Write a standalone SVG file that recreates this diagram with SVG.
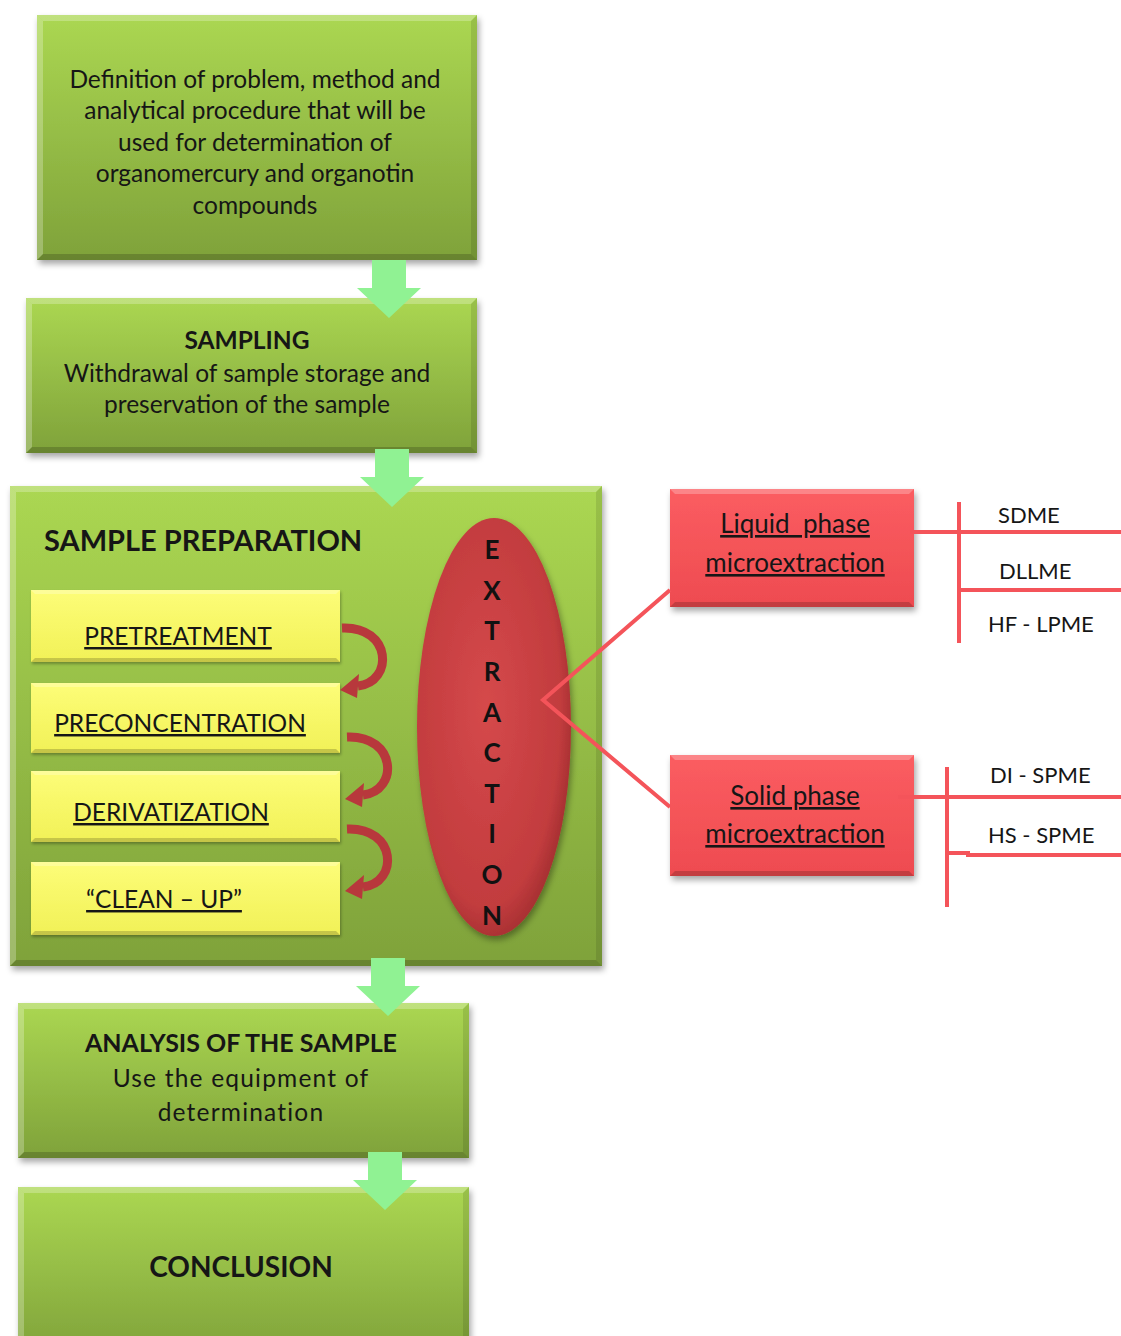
<svg xmlns="http://www.w3.org/2000/svg" width="1121" height="1336" viewBox="0 0 1121 1336">
<defs>
<linearGradient id="gGreen" x1="0" y1="0" x2="0" y2="1"><stop offset="0" stop-color="#abd752"/><stop offset="1" stop-color="#7fa23a"/></linearGradient>
<linearGradient id="gYellow" x1="0" y1="0" x2="0" y2="1"><stop offset="0" stop-color="#fdfd78"/><stop offset="1" stop-color="#f1f157"/></linearGradient>
<linearGradient id="gRed" x1="0" y1="0" x2="0" y2="1"><stop offset="0" stop-color="#fb5d61"/><stop offset="1" stop-color="#ee4b50"/></linearGradient>
<radialGradient id="gEll" cx="0.45" cy="0.45" r="0.6"><stop offset="0" stop-color="#d5494b"/><stop offset="0.8" stop-color="#c23c3e"/><stop offset="1" stop-color="#9e2c2e"/></radialGradient>
<filter id="shadow" x="-10%" y="-10%" width="125%" height="125%"><feDropShadow dx="2" dy="4" stdDeviation="3" flood-color="#000" flood-opacity="0.35"/></filter>
<filter id="soft" x="-10%" y="-10%" width="125%" height="125%"><feDropShadow dx="1" dy="2" stdDeviation="1.5" flood-color="#000" flood-opacity="0.3"/></filter>
<g id="curl">
<path d="M0 4 C50 2 52 58 16 62" fill="none" stroke="#b8383c" stroke-width="9"/>
<polygon points="-2,66 17,50 15,74" fill="#b8383c"/>
</g>
<path id="garrow" d="M-17 0 H17 V28 H32 L0 58 L-32 28 H-17 Z" fill="#90f293"/>
</defs>
<style>
.green{fill:url(#gGreen);filter:url(#shadow)}
.yellow{fill:url(#gYellow);filter:url(#soft)}
.red{fill:url(#gRed);filter:url(#shadow)}
.hl{fill:#fff;opacity:.25}
.dk{fill:#000;opacity:.18}
.dk2{fill:#000;opacity:.1}
.t{font-family:Lato,"Open Sans","Liberation Sans",sans-serif;font-size:24.5px;fill:#161616}
.c{text-anchor:middle}
.b{font-weight:bold}
.u{text-decoration:underline}
.rt{font-size:26px}
.ls{letter-spacing:1.2px}
.ex{font-family:Lato,"Liberation Sans",sans-serif;font-size:26px;font-weight:bold;fill:#111;text-anchor:middle}
.lab{font-family:Lato,"Open Sans","Liberation Sans",sans-serif;font-size:22px;fill:#161616}
.rl{stroke:#f4545a;stroke-width:4;fill:none}
</style>

<g id="node-definition">
<rect class="green" x="37" y="15" width="440" height="245"/>
<polygon class="hl" points="37,15 477,15 471,21 43,21"/>
<polygon class="dk" points="37,260 477,260 471,254 43,254"/>
<polygon class="hl" points="37,15 43,21 43,254 37,260"/>
<polygon class="dk2" points="477,15 471,21 471,254 477,260"/>
<text class="t c" x="255" y="88">Definition of problem, method and</text>
<text class="t c" x="255" y="119">analytical procedure that will be</text>
<text class="t c" x="255" y="151">used for determination of</text>
<text class="t c" x="255" y="182">organomercury and organotin</text>
<text class="t c" x="255" y="214">compounds</text>
</g>

<g id="node-sampling">
<rect class="green" x="26" y="298" width="451" height="155"/>
<polygon class="hl" points="26,298 477,298 471,304 32,304"/>
<polygon class="dk" points="26,453 477,453 471,447 32,447"/>
<polygon class="hl" points="26,298 32,304 32,447 26,453"/>
<polygon class="dk2" points="477,298 471,304 471,447 477,453"/>
<text class="t c b" x="247" y="349">SAMPLING</text>
<text class="t c" x="247" y="382">Withdrawal of sample storage and</text>
<text class="t c" x="247" y="413">preservation of the sample</text>
</g>

<g id="node-sample-preparation">
<rect class="green" x="10" y="486" width="592" height="480"/>
<polygon class="hl" points="10,486 602,486 596,492 16,492"/>
<polygon class="dk" points="10,966 602,966 596,960 16,960"/>
<polygon class="hl" points="10,486 16,492 16,960 10,966"/>
<polygon class="dk2" points="602,486 596,492 596,960 602,966"/>
<text class="t b" x="44" y="551" style="font-size:29px">SAMPLE PREPARATION</text>
</g>

<g id="node-pretreatment">
<rect class="yellow" x="31" y="590" width="309" height="72"/>
<polygon class="hl" points="31,590 340,590 336,594 35,594"/>
<polygon class="dk" points="31,662 340,662 336,658 35,658"/>
<text class="t c u" x="178" y="645">PRETREATMENT</text>
</g>
<g id="node-preconcentration">
<rect class="yellow" x="31" y="683" width="309" height="70"/>
<polygon class="hl" points="31,683 340,683 336,687 35,687"/>
<polygon class="dk" points="31,753 340,753 336,749 35,749"/>
<text class="t c u" x="180" y="732">PRECONCENTRATION</text>
</g>
<g id="node-derivatization">
<rect class="yellow" x="31" y="771" width="309" height="71"/>
<polygon class="hl" points="31,771 340,771 336,775 35,775"/>
<polygon class="dk" points="31,842 340,842 336,838 35,838"/>
<text class="t c u" x="171" y="821">DERIVATIZATION</text>
</g>
<g id="node-cleanup">
<rect class="yellow" x="31" y="862" width="309" height="73"/>
<polygon class="hl" points="31,862 340,862 336,866 35,866"/>
<polygon class="dk" points="31,935 340,935 336,931 35,931"/>
<text class="t c u" x="164" y="908">“CLEAN – UP”</text>
</g>

<g id="node-extraction">
<ellipse cx="494" cy="727" rx="77" ry="209" fill="url(#gEll)" filter="url(#shadow)"/>
<text class="ex" x="492" y="559">E</text>
<text class="ex" x="492" y="600">X</text>
<text class="ex" x="492" y="640">T</text>
<text class="ex" x="492" y="681">R</text>
<text class="ex" x="492" y="722">A</text>
<text class="ex" x="492" y="762">C</text>
<text class="ex" x="492" y="803">T</text>
<text class="ex" x="492" y="843">I</text>
<text class="ex" x="492" y="884">O</text>
<text class="ex" x="492" y="925">N</text>
</g>

<g id="node-liquid-phase">
<rect class="red" x="670" y="489" width="244" height="118"/>
<polygon class="hl" points="670,489 914,489 909,494 675,494"/>
<polygon class="dk" points="670,607 914,607 909,602 675,602"/>
<text class="t c u rt" x="795" y="533" xml:space="preserve">Liquid  phase</text>
<text class="t c u rt" x="795" y="572">microextraction</text>
</g>

<g id="node-solid-phase">
<rect class="red" x="670" y="755" width="244" height="121"/>
<polygon class="hl" points="670,755 914,755 909,760 675,760"/>
<polygon class="dk" points="670,876 914,876 909,871 675,871"/>
<text class="t c u rt" x="795" y="805">Solid phase</text>
<text class="t c u rt" x="795" y="843">microextraction</text>
</g>

<g id="node-analysis">
<rect class="green" x="18" y="1003" width="451" height="155"/>
<polygon class="hl" points="18,1003 469,1003 463,1009 24,1009"/>
<polygon class="dk" points="18,1158 469,1158 463,1152 24,1152"/>
<polygon class="hl" points="18,1003 24,1009 24,1152 18,1158"/>
<polygon class="dk2" points="469,1003 463,1009 463,1152 469,1158"/>
<text class="t c b" x="241" y="1052" style="font-size:25px">ANALYSIS OF THE SAMPLE</text>
<text class="t c ls" x="241" y="1087">Use the equipment of</text>
<text class="t c ls" x="241" y="1121">determination</text>
</g>

<g id="node-conclusion">
<rect class="green" x="18" y="1187" width="451" height="170"/>
<polygon class="hl" points="18,1187 469,1187 463,1193 24,1193"/>
<polygon class="hl" points="18,1187 24,1193 24,1345 18,1345"/>
<polygon class="dk2" points="469,1187 463,1193 463,1345 469,1345"/>
<text class="t c b" x="241" y="1277" style="font-size:28px">CONCLUSION</text>
</g>

<g id="labels">
<text class="lab" x="998" y="523">SDME</text>
<text class="lab" x="999" y="579">DLLME</text>
<text class="lab" x="988" y="632">HF - LPME</text>
<text class="lab" x="990" y="783">DI - SPME</text>
<text class="lab" x="988" y="843">HS - SPME</text>
</g>

<g id="connectors">
<use href="#garrow" x="389" y="260"/>
<use href="#garrow" x="392" y="449"/>
<use href="#garrow" x="388" y="958"/>
<use href="#garrow" x="385" y="1152"/>
<use href="#curl" x="342" y="624"/>
<use href="#curl" x="347" y="733"/>
<use href="#curl" x="347" y="825"/>
<polyline class="rl" points="670,590 543,700 670,807"/>
<line class="rl" x1="910" y1="532" x2="1121" y2="532"/>
<line class="rl" x1="959" y1="502" x2="959" y2="643"/>
<line class="rl" x1="959" y1="590" x2="1121" y2="590"/>
<line class="rl" x1="898" y1="797" x2="1121" y2="797"/>
<line class="rl" x1="947" y1="767" x2="947" y2="907"/>
<polyline class="rl" points="947,853 968,853 968,855 1121,855"/>
</g>
</svg>
